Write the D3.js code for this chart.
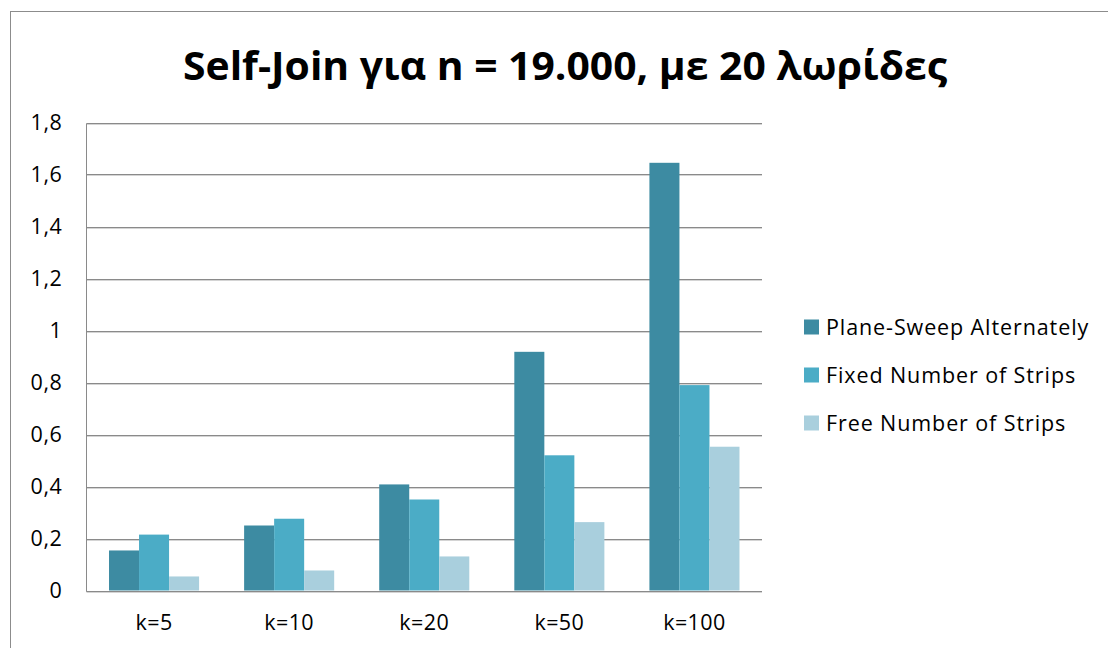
<!DOCTYPE html>
<html>
<head>
<meta charset="utf-8">
<script src="https://cdn.jsdelivr.net/npm/d3@7"></script>
<style>
  html, body { margin: 0; padding: 0; background: #fff; }
  svg { display: block; }
  text { font-family: "Open Sans", "DejaVu Sans", sans-serif; fill: #000; }
</style>
</head>
<body>
<svg id="chart" width="1108" height="648"></svg>
<script>
// Chart data
const title = "Self-Join για n = 19.000, με 20 λωρίδες";
const categories = ["k=5", "k=10", "k=20", "k=50", "k=100"];
const seriesNames = ["Plane-Sweep Alternately", "Fixed Number of Strips", "Free Number of Strips"];
const planeSweep = [0.154, 0.25, 0.408, 0.918, 1.645];
const fixedStrips = [0.215, 0.276, 0.35, 0.52, 0.79];
const freeStrips = [0.054, 0.077, 0.131, 0.263, 0.553];
const yTicks = [0, 0.2, 0.4, 0.6, 0.8, 1, 1.2, 1.4, 1.6, 1.8];
const colors = ["#3d8ba2", "#4bacc6", "#a9cfdd"];

const seriesValues = [planeSweep, fixedStrips, freeStrips];

const svg = d3.select("#chart");

// Outer chart frame (extends past the window on right and bottom)
svg.append("rect")
  .attr("x", 10.5).attr("y", 11.5)
  .attr("width", 1200).attr("height", 700)
  .attr("fill", "#fff")
  .attr("stroke", "#8c8c8c").attr("stroke-width", 1);

// Plot area
const plot = { left: 86.5, right: 762, top: 122.5, bottom: 590.5 };

const x = d3.scaleBand()
  .domain(categories)
  .range([plot.left, plot.right])
  .paddingInner(1 / 3)
  .paddingOuter(1 / 6);

const xInner = d3.scaleBand()
  .domain(d3.range(seriesNames.length))
  .range([0, x.bandwidth()]);

const y = d3.scaleLinear()
  .domain([0, 1.8])
  .range([plot.bottom, plot.top]);

const fmt = v => d3.format("")(+v.toFixed(1)).replace(".", ",");

// Gridlines with a soft lower edge
const grid = svg.append("g");
yTicks.forEach(t => {
  const yy = Math.round(y(t)) + 0.5;
  grid.append("line")
    .attr("x1", plot.left).attr("x2", plot.right)
    .attr("y1", yy + 1).attr("y2", yy + 1)
    .attr("stroke", "#d4d4d4");
  grid.append("line")
    .attr("x1", plot.left).attr("x2", plot.right)
    .attr("y1", yy).attr("y2", yy)
    .attr("stroke", "#8a8a8a");
});

// Left axis line
svg.append("line")
  .attr("x1", plot.left).attr("x2", plot.left)
  .attr("y1", Math.round(y(1.8)) + 0.5).attr("y2", Math.round(y(0)) + 0.5)
  .attr("stroke", "#8a8a8a");

// Y axis tick labels
const yAxis = d3.axisLeft(y)
  .tickValues(yTicks)
  .tickFormat(fmt)
  .tickSize(0)
  .tickPadding(24);
const yG = svg.append("g")
  .attr("transform", `translate(${plot.left},0)`)
  .call(yAxis);
yG.select(".domain").remove();
yG.selectAll("text")
  .attr("font-family", "\"Open Sans\", sans-serif")
  .attr("font-size", 21.5)
  .attr("letter-spacing", 0.6)
  .attr("fill", "#000");

// Bars
const groups = svg.append("g")
  .selectAll("g")
  .data(categories)
  .join("g")
  .attr("transform", d => `translate(${x(d)},0)`);

groups.selectAll("rect")
  .data((d, i) => seriesValues.map((vals, s) => ({ s, v: vals[i] })))
  .join("rect")
  .attr("x", d => xInner(d.s))
  .attr("width", xInner.bandwidth())
  .attr("y", d => y(d.v))
  .attr("height", d => y(0) - y(d.v))
  .attr("fill", d => colors[d.s]);

// Baseline drawn over bars
svg.append("line")
  .attr("x1", plot.left).attr("x2", plot.right)
  .attr("y1", Math.round(y(0)) + 0.5).attr("y2", Math.round(y(0)) + 0.5)
  .attr("stroke", "#8a8a8a");

// X axis labels
const xAxis = d3.axisBottom(x).tickSize(0).tickPadding(24);
const xG = svg.append("g")
  .attr("transform", `translate(0,${plot.bottom})`)
  .call(xAxis);
xG.select(".domain").remove();
xG.selectAll("text")
  .attr("font-family", "\"Open Sans\", sans-serif")
  .attr("font-size", 21.5)
  .attr("letter-spacing", 0.4)
  .attr("fill", "#000");

// Title
svg.append("text")
  .attr("x", 565).attr("y", 80)
  .attr("text-anchor", "middle")
  .attr("font-size", 40)
  .attr("font-weight", "bold")
  .attr("textLength", 764)
  .attr("lengthAdjust", "spacingAndGlyphs")
  .text(title);

// Legend
const legend = svg.append("g")
  .attr("transform", "translate(804,327)");
const item = legend.selectAll("g")
  .data(seriesNames)
  .join("g")
  .attr("transform", (d, i) => `translate(0,${i * 48})`);
item.append("rect")
  .attr("x", 0).attr("y", -7.5)
  .attr("width", 15).attr("height", 15)
  .attr("fill", (d, i) => colors[i]);
item.append("text")
  .attr("x", 22).attr("y", 0)
  .attr("dy", "0.35em")
  .attr("font-size", 21.5)
  .attr("letter-spacing", 0.9)
  .text(d => d);
</script>
</body>
</html>
